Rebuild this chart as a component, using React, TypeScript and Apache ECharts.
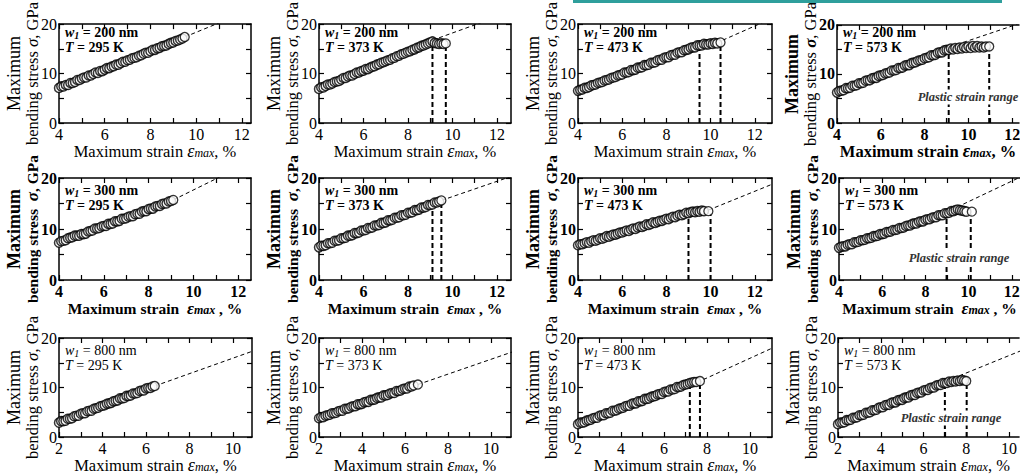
import React, { useEffect, useRef } from "react";
import * as echarts from "echarts";

const FONT = '"Liberation Serif", "Times New Roman", serif';

// ---------- data (strain %, stress GPa) ----------
const r1p1Pts = [[4.0,7.1],[4.1,7.4],[4.2,7.4],[4.3,7.7],[4.4,7.7],[4.5,8.1],[4.6,8.1],[4.7,8.3],[4.8,8.7],[4.9,8.7],[5.0,9.0],[5.1,9.2],[5.2,9.2],[5.3,9.6],[5.4,9.6],[5.5,9.9],[5.6,10.2],[5.7,10.1],[5.8,10.5],[5.9,10.5],[6.0,10.8],[6.1,11.1],[6.2,11.1],[6.3,11.4],[6.4,11.5],[6.5,11.8],[6.6,11.8],[6.7,12.1],[6.8,12.4],[6.9,12.4],[7.0,12.7],[7.1,12.8],[7.2,13.1],[7.3,13.2],[7.4,13.3],[7.5,13.6],[7.6,13.7],[7.7,14.0],[7.8,14.2],[7.9,14.2],[8.0,14.5],[8.1,14.8],[8.2,14.8],[8.3,15.1],[8.4,15.2],[8.5,15.5],[8.6,15.6],[8.7,15.7],[8.8,16.0],[8.9,16.2],[9.0,16.3],[9.1,16.6],[9.2,16.7],[9.3,16.9],[9.4,17.1]];
const r1p1Last = [9.5, 17.4];
const r1p1Fit = [[9.5, 17.4], [12.4, 22.9]];
const r1p1Range: number[][] = [];

const r1p2Pts = [[4.0,6.9],[4.1,7.2],[4.2,7.2],[4.3,7.5],[4.4,7.8],[4.5,7.8],[4.6,8.0],[4.7,8.3],[4.8,8.4],[4.9,8.5],[5.0,8.8],[5.1,9.1],[5.2,9.1],[5.3,9.4],[5.4,9.6],[5.5,9.6],[5.6,9.9],[5.7,10.2],[5.8,10.2],[5.9,10.5],[6.0,10.6],[6.1,10.9],[6.2,10.9],[6.3,11.2],[6.4,11.4],[6.5,11.5],[6.6,11.8],[6.7,11.9],[6.8,12.2],[6.9,12.3],[7.0,12.5],[7.1,12.7],[7.2,12.8],[7.3,13.1],[7.4,13.2],[7.5,13.5],[7.6,13.6],[7.7,13.9],[7.8,14.0],[7.9,14.2],[8.0,14.4],[8.1,14.5],[8.2,14.8],[8.3,14.9],[8.4,15.2],[8.5,15.3],[8.6,15.6],[8.7,15.7],[8.8,15.9],[8.9,16.1],[9.0,16.3],[9.1,16.5],[9.2,16.2],[9.3,16.1],[9.4,16.0],[9.5,16.1],[9.6,16.0]];
const r1p2Last = [9.7, 16.1];
const r1p2Fit = [[9.1, 16.75], [12.7, 22.6]];
const r1p2Range = [[9.1, 16.0], [9.7, 15.6]];

const r1p3Pts = [[4.0,6.5],[4.1,6.7],[4.2,6.8],[4.3,7.1],[4.4,7.1],[4.5,7.3],[4.6,7.6],[4.7,7.7],[4.8,7.8],[4.9,8.1],[5.0,8.2],[5.1,8.3],[5.2,8.6],[5.3,8.7],[5.4,8.8],[5.5,9.1],[5.6,9.2],[5.7,9.3],[5.8,9.6],[5.9,9.7],[6.0,9.8],[6.1,10.2],[6.2,10.2],[6.3,10.3],[6.4,10.7],[6.5,10.7],[6.6,10.8],[6.7,11.2],[6.8,11.2],[6.9,11.3],[7.0,11.7],[7.1,11.7],[7.2,11.8],[7.3,12.2],[7.4,12.2],[7.5,12.3],[7.6,12.7],[7.7,12.8],[7.8,12.8],[7.9,13.2],[8.0,13.3],[8.1,13.3],[8.2,13.7],[8.3,13.8],[8.4,13.8],[8.5,14.2],[8.6,14.3],[8.7,14.3],[8.8,14.7],[8.9,14.8],[9.0,14.9],[9.1,15.2],[9.2,15.3],[9.3,15.3],[9.4,15.7],[9.5,15.7],[9.6,15.7],[9.7,16.0],[9.8,15.9],[9.9,15.9],[10.0,16.1],[10.1,16.0],[10.2,16.2],[10.3,16.1]];
const r1p3Last = [10.45, 16.3];
const r1p3Fit = [[10.55, 16.75], [12.8, 21.2]];
const r1p3Range = [[9.5, 15.1], [10.45, 15.8]];

const r1p4Pts = [[4.0,6.2],[4.1,6.5],[4.2,6.6],[4.3,6.7],[4.4,7.1],[4.5,7.1],[4.6,7.2],[4.7,7.6],[4.8,7.6],[4.9,7.7],[5.0,8.1],[5.1,8.1],[5.2,8.2],[5.3,8.6],[5.4,8.7],[5.5,8.7],[5.6,9.1],[5.7,9.2],[5.8,9.2],[5.9,9.6],[6.0,9.7],[6.1,9.8],[6.2,10.1],[6.3,10.2],[6.4,10.3],[6.5,10.7],[6.6,10.7],[6.7,10.8],[6.8,11.2],[6.9,11.2],[7.0,11.3],[7.1,11.7],[7.2,11.8],[7.3,11.8],[7.4,12.2],[7.5,12.3],[7.6,12.4],[7.7,12.7],[7.8,12.8],[7.9,12.9],[8.0,13.2],[8.1,13.3],[8.2,13.4],[8.3,13.8],[8.4,13.8],[8.5,13.9],[8.6,14.3],[8.7,14.4],[8.8,14.4],[8.9,14.8],[9.0,14.9],[9.1,14.9],[9.2,15.2],[9.3,15.0],[9.4,15.3],[9.5,15.1],[9.6,15.4],[9.7,15.2],[9.8,15.5],[9.9,15.3],[10.0,15.6],[10.1,15.3],[10.2,15.7],[10.3,15.4],[10.4,15.7],[10.5,15.4],[10.6,15.6],[10.7,15.4],[10.8,15.6]];
const r1p4Last = [10.95, 15.6];
const r1p4Fit = [[9.15, 15.5], [13.0, 21.3]];
const r1p4Range = [[9.1, 14.8], [10.95, 15.3]];

const r2p1Pts = [[4.0,7.3],[4.1,7.6],[4.2,7.7],[4.3,7.8],[4.4,8.2],[4.5,8.3],[4.6,8.4],[4.7,8.7],[4.8,8.7],[4.9,8.7],[5.0,9.0],[5.1,9.0],[5.2,9.1],[5.3,9.5],[5.4,9.6],[5.5,9.7],[5.6,10.1],[5.7,10.1],[5.8,10.2],[5.9,10.5],[6.0,10.6],[6.1,10.6],[6.2,11.0],[6.3,11.0],[6.4,11.1],[6.5,11.5],[6.6,11.5],[6.7,11.6],[6.8,12.0],[6.9,12.0],[7.0,12.1],[7.1,12.4],[7.2,12.5],[7.3,12.5],[7.4,12.9],[7.5,13.0],[7.6,13.0],[7.7,13.4],[7.8,13.5],[7.9,13.5],[8.0,13.9],[8.1,14.0],[8.2,14.0],[8.3,14.4],[8.4,14.5],[8.5,14.5],[8.6,14.9],[8.7,15.0],[8.8,15.0],[8.9,15.4],[9.0,15.5]];
const r2p1Last = [9.1, 15.7];
const r2p1Fit = [[9.1, 15.7], [12.6, 23.3]];
const r2p1Range: number[][] = [];

const r2p2Pts = [[4.0,6.4],[4.1,6.7],[4.2,6.7],[4.3,6.8],[4.4,7.2],[4.5,7.2],[4.6,7.3],[4.7,7.7],[4.8,7.7],[4.9,7.8],[5.0,8.2],[5.1,8.2],[5.2,8.3],[5.3,8.7],[5.4,8.7],[5.5,8.8],[5.6,9.2],[5.7,9.2],[5.8,9.3],[5.9,9.7],[6.0,9.7],[6.1,9.8],[6.2,10.2],[6.3,10.2],[6.4,10.3],[6.5,10.7],[6.6,10.7],[6.7,10.8],[6.8,11.2],[6.9,11.2],[7.0,11.3],[7.1,11.7],[7.2,11.7],[7.3,11.8],[7.4,12.2],[7.5,12.2],[7.6,12.3],[7.7,12.7],[7.8,12.7],[7.9,12.8],[8.0,13.2],[8.1,13.2],[8.2,13.3],[8.3,13.7],[8.4,13.7],[8.5,13.8],[8.6,14.2],[8.7,14.2],[8.8,14.3],[8.9,14.7],[9.0,14.7],[9.1,14.8],[9.2,15.2],[9.3,15.2],[9.4,15.4]];
const r2p2Last = [9.5, 15.6];
const r2p2Fit = [[9.5, 15.6], [12.7, 20.4]];
const r2p2Range = [[9.1, 14.6], [9.5, 15.0]];

const r2p3Pts = [[4.0,6.8],[4.1,7.0],[4.2,7.0],[4.3,7.2],[4.4,7.4],[4.5,7.3],[4.6,7.6],[4.7,7.8],[4.8,7.7],[4.9,7.9],[5.0,8.2],[5.1,8.1],[5.2,8.3],[5.3,8.6],[5.4,8.5],[5.5,8.7],[5.6,8.9],[5.7,8.9],[5.8,9.1],[5.9,9.3],[6.0,9.3],[6.1,9.5],[6.2,9.7],[6.3,9.6],[6.4,9.9],[6.5,10.1],[6.6,10.0],[6.7,10.3],[6.8,10.5],[6.9,10.4],[7.0,10.6],[7.1,10.9],[7.2,10.8],[7.3,11.0],[7.4,11.3],[7.5,11.2],[7.6,11.4],[7.7,11.6],[7.8,11.6],[7.9,11.8],[8.0,12.0],[8.1,11.9],[8.2,12.2],[8.3,12.4],[8.4,12.3],[8.5,12.6],[8.6,12.8],[8.7,12.7],[8.8,12.9],[8.9,13.2],[9.0,13.1],[9.1,13.3],[9.2,13.4],[9.3,13.3],[9.4,13.5],[9.5,13.4],[9.6,13.6],[9.7,13.5]];
const r2p3Last = [9.9, 13.5];
const r2p3Fit = [[9.9, 13.7], [12.8, 18.8]];
const r2p3Range = [[9.0, 12.6], [10.0, 13.0]];

const r2p4Pts = [[4.0,6.3],[4.1,6.5],[4.2,6.6],[4.3,6.6],[4.4,6.9],[4.5,7.0],[4.6,7.0],[4.7,7.4],[4.8,7.4],[4.9,7.5],[5.0,7.8],[5.1,7.8],[5.2,7.9],[5.3,8.2],[5.4,8.2],[5.5,8.3],[5.6,8.6],[5.7,8.6],[5.8,8.7],[5.9,9.0],[6.0,9.0],[6.1,9.1],[6.2,9.4],[6.3,9.4],[6.4,9.5],[6.5,9.8],[6.6,9.8],[6.7,9.9],[6.8,10.2],[6.9,10.2],[7.0,10.3],[7.1,10.6],[7.2,10.7],[7.3,10.7],[7.4,11.0],[7.5,11.1],[7.6,11.1],[7.7,11.4],[7.8,11.5],[7.9,11.5],[8.0,11.8],[8.1,11.9],[8.2,11.9],[8.3,12.2],[8.4,12.3],[8.5,12.3],[8.6,12.7],[8.7,12.7],[8.8,12.7],[8.9,13.1],[9.0,13.1],[9.1,13.2],[9.2,13.5],[9.3,13.5],[9.4,13.7],[9.5,13.8],[9.6,13.7],[9.7,13.6],[9.8,13.5],[9.9,13.4]];
const r2p4Last = [10.15, 13.4];
const r2p4Fit = [[9.17, 13.7], [13.0, 21.4]];
const r2p4Range = [[8.98, 12.6], [10.1, 12.9]];

const r3p1Pts = [[2.0,2.9],[2.1,3.2],[2.2,3.2],[2.3,3.3],[2.4,3.7],[2.5,3.7],[2.6,3.8],[2.7,4.2],[2.8,4.3],[2.9,4.3],[3.0,4.7],[3.1,4.8],[3.2,4.8],[3.3,5.2],[3.4,5.3],[3.5,5.3],[3.6,5.7],[3.7,5.8],[3.8,5.9],[3.9,6.2],[4.0,6.3],[4.1,6.4],[4.2,6.7],[4.3,6.8],[4.4,6.9],[4.5,7.2],[4.6,7.3],[4.7,7.4],[4.8,7.8],[4.9,7.8],[5.0,7.9],[5.1,8.3],[5.2,8.3],[5.3,8.4],[5.4,8.8],[5.5,8.8],[5.6,8.9],[5.7,9.3],[5.8,9.4],[5.9,9.4],[6.0,9.8],[6.1,9.9],[6.2,9.9],[6.3,10.2]];
const r3p1Last = [6.4, 10.3];
const r3p1Fit = [[6.4, 10.3], [11.0, 17.5]];
const r3p1Range: number[][] = [];

const r3p2Pts = [[2.0,3.8],[2.1,4.0],[2.2,4.0],[2.3,4.3],[2.4,4.4],[2.5,4.5],[2.6,4.8],[2.7,4.8],[2.8,4.9],[2.9,5.2],[3.0,5.3],[3.1,5.3],[3.2,5.7],[3.3,5.7],[3.4,5.8],[3.5,6.1],[3.6,6.2],[3.7,6.2],[3.8,6.6],[3.9,6.6],[4.0,6.7],[4.1,7.0],[4.2,7.1],[4.3,7.1],[4.4,7.5],[4.5,7.5],[4.6,7.6],[4.7,7.9],[4.8,8.0],[4.9,8.0],[5.0,8.4],[5.1,8.4],[5.2,8.5],[5.3,8.8],[5.4,8.9],[5.5,8.9],[5.6,9.3],[5.7,9.3],[5.8,9.4],[5.9,9.7],[6.0,9.8],[6.1,9.8],[6.2,10.2],[6.3,10.2],[6.4,10.4]];
const r3p2Last = [6.6, 10.6];
const r3p2Fit = [[6.6, 10.6], [11.0, 17.2]];
const r3p2Range: number[][] = [];

const r3p3Pts = [[2.0,2.6],[2.1,2.9],[2.2,2.9],[2.3,3.0],[2.4,3.3],[2.5,3.4],[2.6,3.5],[2.7,3.8],[2.8,3.9],[2.9,3.9],[3.0,4.3],[3.1,4.4],[3.2,4.4],[3.3,4.8],[3.4,4.8],[3.5,4.9],[3.6,5.3],[3.7,5.3],[3.8,5.4],[3.9,5.7],[4.0,5.8],[4.1,5.9],[4.2,6.2],[4.3,6.3],[4.4,6.3],[4.5,6.7],[4.6,6.8],[4.7,6.8],[4.8,7.2],[4.9,7.2],[5.0,7.3],[5.1,7.7],[5.2,7.7],[5.3,7.8],[5.4,8.1],[5.5,8.2],[5.6,8.3],[5.7,8.6],[5.8,8.7],[5.9,8.7],[6.0,9.1],[6.1,9.2],[6.2,9.2],[6.3,9.6],[6.4,9.6],[6.5,9.7],[6.6,10.1],[6.7,10.1],[6.8,10.2],[6.9,10.5],[7.0,10.6],[7.1,10.7],[7.2,10.9],[7.3,11.0],[7.4,11.1],[7.5,11.1]];
const r3p3Last = [7.67, 11.3];
const r3p3Fit = [[7.83, 11.6], [11.0, 17.9]];
const r3p3Range = [[7.2, 10.6], [7.67, 11.0]];

const r3p4Pts = [[2.0,2.6],[2.1,2.9],[2.2,2.9],[2.3,3.0],[2.4,3.4],[2.5,3.4],[2.6,3.5],[2.7,3.9],[2.8,3.9],[2.9,4.0],[3.0,4.4],[3.1,4.4],[3.2,4.5],[3.3,4.9],[3.4,4.9],[3.5,5.0],[3.6,5.4],[3.7,5.4],[3.8,5.5],[3.9,5.9],[4.0,6.0],[4.1,6.0],[4.2,6.4],[4.3,6.5],[4.4,6.5],[4.5,6.9],[4.6,7.0],[4.7,7.0],[4.8,7.4],[4.9,7.5],[5.0,7.5],[5.1,7.9],[5.2,8.0],[5.3,8.0],[5.4,8.4],[5.5,8.5],[5.6,8.5],[5.7,8.9],[5.8,9.0],[5.9,9.0],[6.0,9.4],[6.1,9.5],[6.2,9.5],[6.3,9.9],[6.4,10.0],[6.5,10.0],[6.6,10.4],[6.7,10.5],[6.8,10.5],[6.9,10.9],[7.0,10.9],[7.1,10.9],[7.2,11.2],[7.3,11.1],[7.4,11.3],[7.5,11.2],[7.6,11.4],[7.7,11.3],[7.8,11.5],[7.9,11.4]];
const r3p4Last = [8.0, 11.3];
const r3p4Fit = [[7.07, 11.3], [11.0, 18.2]];
const r3p4Range = [[7.0, 10.6], [8.02, 11.0]];

const widths = [200, 300, 800];
const temps = [295, 373, 473, 573];
const plasticLabel = "Plastic strain range";
const yLabelValues = [0, 10, 20];
const yTickValues = [0, 5, 10, 15, 20];
const xLabelsWide = [4, 6, 8, 10, 12];
const xTicksWide = [4, 5, 6, 7, 8, 9, 10, 11, 12];
const xLabelsNarrow = [2, 4, 6, 8, 10];
const xTicksNarrow = [2, 3, 4, 5, 6, 7, 8, 9, 10];

const panels = [
  { w: 0, t: 0, pts: r1p1Pts, last: r1p1Last, fit: r1p1Fit, range: r1p1Range },
  { w: 0, t: 1, pts: r1p2Pts, last: r1p2Last, fit: r1p2Fit, range: r1p2Range },
  { w: 0, t: 2, pts: r1p3Pts, last: r1p3Last, fit: r1p3Fit, range: r1p3Range },
  { w: 0, t: 3, pts: r1p4Pts, last: r1p4Last, fit: r1p4Fit, range: r1p4Range },
  { w: 1, t: 0, pts: r2p1Pts, last: r2p1Last, fit: r2p1Fit, range: r2p1Range },
  { w: 1, t: 1, pts: r2p2Pts, last: r2p2Last, fit: r2p2Fit, range: r2p2Range },
  { w: 1, t: 2, pts: r2p3Pts, last: r2p3Last, fit: r2p3Fit, range: r2p3Range },
  { w: 1, t: 3, pts: r2p4Pts, last: r2p4Last, fit: r2p4Fit, range: r2p4Range },
  { w: 2, t: 0, pts: r3p1Pts, last: r3p1Last, fit: r3p1Fit, range: r3p1Range },
  { w: 2, t: 1, pts: r3p2Pts, last: r3p2Last, fit: r3p2Fit, range: r3p2Range },
  { w: 2, t: 2, pts: r3p3Pts, last: r3p3Last, fit: r3p3Fit, range: r3p3Range },
  { w: 2, t: 3, pts: r3p4Pts, last: r3p4Last, fit: r3p4Fit, range: r3p4Range },
];

// ---------- layout / style (not data) ----------
const layout = [
  { left: 59, top: 20, width: 192, height: 103, xMin: 4, xMax: 12.4, bold: false, row: 0 },
  { left: 319, top: 20, width: 192, height: 103, xMin: 4, xMax: 12.63, bold: false, row: 0 },
  { left: 578, top: 20, width: 194, height: 103, xMin: 4, xMax: 12.78, bold: false, row: 0 },
  { left: 837, top: 20, width: 182, height: 103, xMin: 4, xMax: 12.31, bold: true, row: 0, openRight: true, edgeLabel: true, plastic: [968, 97] },
  { left: 59, top: 178, width: 192, height: 102, xMin: 4, xMax: 12.57, bold: true, row: 1 },
  { left: 319, top: 178, width: 192, height: 102, xMin: 4, xMax: 12.63, bold: true, row: 1 },
  { left: 578, top: 178, width: 194, height: 102, xMin: 4, xMax: 12.78, bold: true, row: 1 },
  { left: 839, top: 178, width: 181, height: 102, xMin: 4, xMax: 12.38, bold: true, row: 1, openRight: true, edgeLabel: true, plastic: [959, 258] },
  { left: 59, top: 338, width: 193, height: 100, xMin: 2, xMax: 10.87, bold: false, row: 2 },
  { left: 319, top: 338, width: 192, height: 100, xMin: 2, xMax: 10.93, bold: false, row: 2 },
  { left: 578, top: 338, width: 194, height: 100, xMin: 2, xMax: 11.02, bold: false, row: 2 },
  { left: 838, top: 338, width: 182, height: 100, xMin: 2, xMax: 10.47, bold: false, row: 2, openRight: true, plastic: [951, 418] },
];

function buildOption() {
  const grid: any[] = [];
  const xAxis: any[] = [];
  const yAxis: any[] = [];
  const series: any[] = [];
  const graphic: any[] = [];

  panels.forEach((p, i) => {
    const L: any = layout[i];
    const fw = L.bold ? "bold" : "normal";
    const infoBold = L.row < 2 ? "bold" : "normal";
    const nameSize = L.row === 1 ? 15.5 : 16.5;
    const allLabels = L.row === 2 ? xLabelsNarrow : xLabelsWide;
    const xLabels = L.edgeLabel ? allLabels.slice(0, -1) : allLabels;
    const xTicks = L.row === 2 ? xTicksNarrow : xTicksWide;
    grid.push({ left: L.left, top: L.top, width: L.width, height: L.height, show: false });
    const axLine = { show: true, onZero: false, lineStyle: { color: "#000", width: 1.5 } };
    const tickStyle = { color: "#000", width: 1.2 };
    const sp = L.row === 1 ? "  " : " ";
    const sp2 = L.row === 1 ? " " : "";
    xAxis.push({
      type: "value", gridIndex: i, position: "bottom", min: L.xMin, max: L.xMax, interval: 1,
      axisLine: axLine,
      axisTick: { show: true, inside: true, length: 5, lineStyle: tickStyle, customValues: xTicks },
      splitLine: { show: false },
      axisLabel: {
        margin: 3, color: "#000", fontFamily: FONT, fontSize: 16, fontWeight: fw,
        customValues: xLabels, showMinLabel: true, showMaxLabel: true, hideOverlap: false,
      },
      name: `{a|Maximum strain${sp}}{e|ε}{s|max}{a|${sp2}, %}`,
      nameLocation: "middle", nameGap: 20, nameMoveOverlap: false,
      nameTextStyle: {
        rich: {
          a: { fontFamily: FONT, fontSize: nameSize, fontWeight: fw, color: "#000", lineHeight: 16 },
          e: { fontFamily: FONT, fontSize: nameSize + 1.5, fontStyle: "italic", fontWeight: fw, color: "#000", lineHeight: 16 },
          s: { fontFamily: FONT, fontSize: 12, fontStyle: "italic", fontWeight: fw, color: "#000", lineHeight: 10, verticalAlign: "bottom" },
        },
      },
    });
    xAxis.push({
      type: "value", gridIndex: i, position: "top", min: L.xMin, max: L.xMax, interval: 1,
      axisLine: axLine,
      axisTick: { show: true, inside: true, length: 5, lineStyle: tickStyle, customValues: xTicks },
      splitLine: { show: false }, axisLabel: { show: false },
    });
    yAxis.push({
      type: "value", gridIndex: i, position: "left", min: 0, max: 20, interval: 5,
      axisLine: axLine,
      axisTick: { show: true, inside: true, length: 5, lineStyle: tickStyle, customValues: yTickValues },
      splitLine: { show: false },
      axisLabel: {
        margin: 2, color: "#000", fontFamily: FONT, fontSize: 16, fontWeight: fw,
        customValues: yLabelValues, showMinLabel: true, showMaxLabel: true, hideOverlap: false,
      },
      name: `{m|Maximum}\n{b|bending stress${sp}}{g|σ}{b|, GPa}`,
      nameLocation: "middle", nameRotate: 90, nameGap: 18, nameMoveOverlap: false,
      nameTextStyle: {
        rich: {
          m: { fontFamily: FONT, fontSize: 18, fontWeight: fw, color: "#000", lineHeight: 20 },
          b: { fontFamily: FONT, fontSize: nameSize, fontWeight: L.row === 1 ? "bold" : "normal", color: "#000", lineHeight: 17 },
          g: { fontFamily: FONT, fontSize: 17, fontStyle: "italic", fontWeight: fw, color: "#000", lineHeight: 17 },
        },
      },
    });
    yAxis.push({
      type: "value", gridIndex: i, position: "right", min: 0, max: 20, interval: 5,
      axisLine: { ...axLine, show: !L.openRight },
      axisTick: { show: !L.openRight, inside: true, length: 5, lineStyle: tickStyle, customValues: yTickValues },
      splitLine: { show: false }, axisLabel: { show: false },
    });

    const xi = 2 * i;
    const yi = 2 * i;
    series.push({
      type: "line", xAxisIndex: xi, yAxisIndex: yi, data: p.fit, showSymbol: false, symbol: "none",
      lineStyle: { color: "#000", width: 1, type: [4, 3] }, z: 1, silent: true,
    });
    p.range.forEach((r) => {
      series.push({
        type: "line", xAxisIndex: xi, yAxisIndex: yi, data: [[r[0], 0], [r[0], r[1]]], symbol: "none",
        lineStyle: { color: "#000", width: 2, type: [5, 3] }, z: 1, silent: true,
      });
    });
    series.push({
      type: "scatter", xAxisIndex: xi, yAxisIndex: yi, data: p.pts, symbol: "circle", symbolSize: 9,
      itemStyle: { color: "#fff", borderColor: "#000", borderWidth: 1.5 }, z: 3, silent: true,
    });
    series.push({
      type: "scatter", xAxisIndex: xi, yAxisIndex: yi, data: [p.last], symbol: "circle", symbolSize: 9,
      itemStyle: { color: "#fff", borderColor: "#000", borderWidth: 1.3 }, z: 4, silent: true,
    });

    graphic.push({
      type: "text", x: L.left + 6, y: L.top + 5, z: 20,
      style: {
        text: `{w|w}{s|1}{n| = ${widths[p.w]} nm}\n{w|T}{n| = ${temps[p.t]} K}`,
        rich: {
          w: { fontFamily: FONT, fontSize: 14, fontStyle: "italic", fontWeight: infoBold, fill: "#000", lineHeight: 15 },
          s: { fontFamily: FONT, fontSize: 10, fontStyle: "italic", fontWeight: infoBold, fill: "#000", lineHeight: 10, verticalAlign: "bottom" },
          n: { fontFamily: FONT, fontSize: 14, fontWeight: infoBold, fill: "#000", lineHeight: 15 },
        },
      },
    });
    if (L.plastic) {
      graphic.push({
        type: "text", x: L.plastic[0], y: L.plastic[1], z: 20,
        style: {
          text: plasticLabel, align: "center", verticalAlign: "middle",
          font: `italic bold 12.5px ${FONT}`, fill: "#333", backgroundColor: "#fff", padding: [1, 2],
        },
      });
    }
  });

  graphic.push({ type: "rect", shape: { x: 573, y: 0, width: 429, height: 3 }, style: { fill: "#2f9f9c" }, z: 30 });

  return { animation: false, backgroundColor: "#fff", grid, xAxis, yAxis, series, graphic };
}

export default function App() {
  const ref = useRef<HTMLDivElement>(null);
  useEffect(() => {
    if (!ref.current) return;
    const chart = echarts.init(ref.current, undefined, { renderer: "svg" });
    const option: any = buildOption();
    chart.setOption(option);
    // the last tick label of the right-most panels, positioned through the grid's own scale
    const extra: any[] = [];
    layout.forEach((L: any, i) => {
      if (!L.edgeLabel) return;
      const labels = L.row === 2 ? xLabelsNarrow : xLabelsWide;
      const v = labels[labels.length - 1];
      let pt: any = null;
      try {
        pt = chart.convertToPixel({ gridIndex: i } as any, [v, 0]);
      } catch (e) {
        pt = null;
      }
      if (!pt || !isFinite(pt[0])) return;
      extra.push({
        type: "text", x: pt[0], y: pt[1] + 3, z: 25,
        style: {
          text: String(v), align: "center", verticalAlign: "top",
          font: `${L.bold ? "bold " : ""}16px ${FONT}`, fill: "#000",
        },
      });
    });
    if (extra.length) chart.setOption({ graphic: [...option.graphic, ...extra] });
    return () => chart.dispose();
  }, []);
  return <div ref={ref} style={{ position: "fixed", left: 0, top: 0, width: 1020, height: 475, background: "#fff" }} />;
}
